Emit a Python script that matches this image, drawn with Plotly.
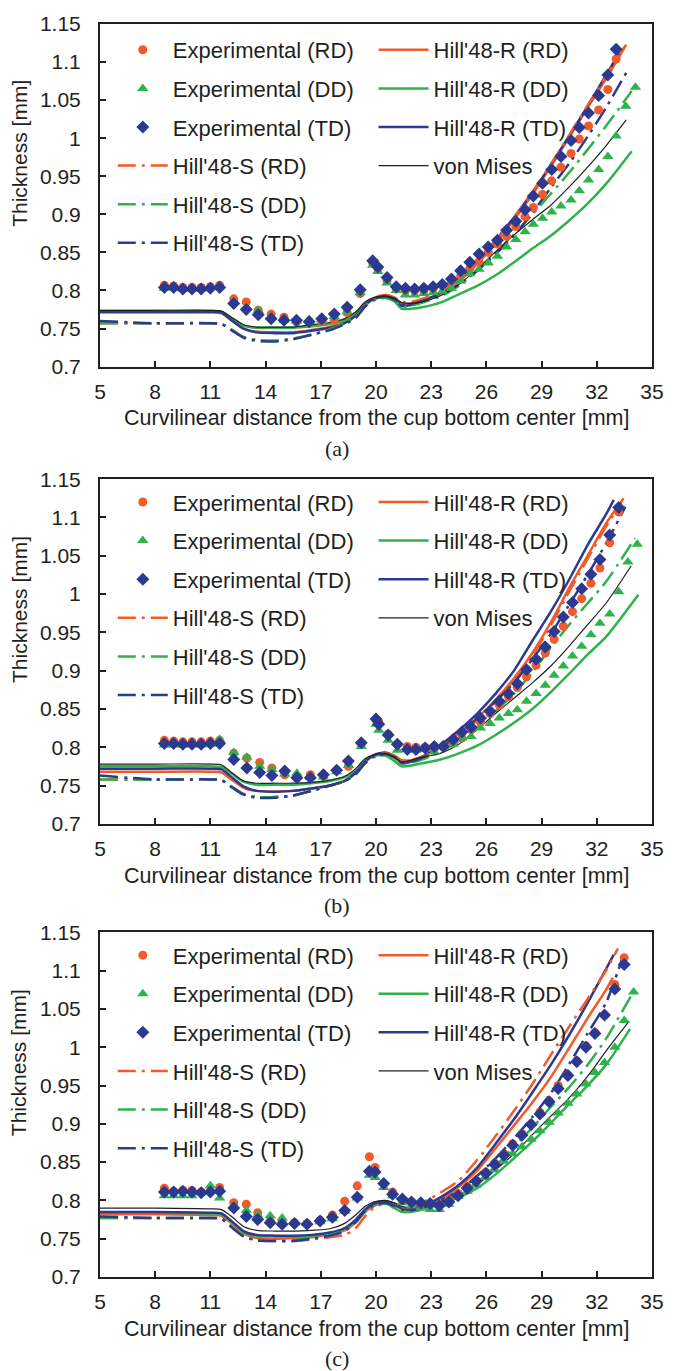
import plotly.graph_objects as go

# ---------------- data ----------------
# model curves: common x grid, each list has one extra final value (curve end), end x given separately
CX = [5, 8, 11, 11.6, 12.2, 12.8, 13.5, 14.5, 15.5, 16.5, 17.5, 18.3, 18.9, 19.4, 19.9,
      20.5, 21.0, 21.4, 21.9, 22.5, 23.5, 24.5, 25.5, 26.5, 27.5, 28.5, 29.5, 30.5, 31.5, 32.5]

# ---- panel (a)
A_X = [8.5, 9.0, 9.5, 10.0, 10.5, 11.0, 11.5,
       12.27, 12.95, 13.6, 14.3, 15.0, 15.68, 16.37, 17.05, 17.73, 18.43, 19.14, 19.82,
       20.1, 20.6, 21.1, 21.6, 22.1, 22.6, 23.1, 23.6, 24.1, 24.6, 25.1, 25.6, 26.1, 26.6, 27.1, 27.6, 28.1,
       28.55, 29.05, 29.55, 30.05, 30.6, 31.05, 31.55, 32.1, 32.6, 33.05,
       33.57, 34.1]
A_RD = [0.807, 0.806, 0.804, 0.804, 0.804, 0.805, 0.807,
        0.789, 0.785, 0.774, 0.769, 0.765, 0.759, 0.759, 0.760, 0.761, 0.771, 0.796, 0.836,
        0.829, 0.813, 0.802, 0.800, 0.800, 0.800, 0.803, 0.807, 0.810, 0.819, 0.829, 0.838, 0.850, 0.861, 0.871, 0.884, 0.897,
        0.909, 0.926, 0.944, 0.962, 0.980, 0.999, 1.016, 1.037, 1.064, 1.104,
        None, None]
A_DD = [0.803, 0.803, 0.802, 0.802, 0.802, 0.804, 0.805,
        0.785, 0.778, 0.774, 0.766, 0.761, 0.760, 0.762, 0.762, 0.766, 0.772, 0.797, 0.833,
        0.825, 0.810, 0.800, 0.794, 0.794, 0.796, 0.797, 0.799, 0.803, 0.812, 0.822, 0.828, 0.836, 0.845, 0.857, 0.867, 0.877,
        0.887, 0.895, 0.903, 0.911, 0.919, 0.931, 0.945, 0.959, 0.976, 1.003,
        1.042, 1.067]
A_TD = [0.804, 0.804, 0.802, 0.802, 0.802, 0.803, 0.804,
        0.783, 0.775, 0.768, 0.763, 0.761, 0.761, 0.759, 0.763, 0.769, 0.778, 0.801, 0.839,
        0.831, 0.817, 0.805, 0.803, 0.802, 0.803, 0.805, 0.808, 0.815, 0.826, 0.837, 0.848, 0.857, 0.866, 0.879, 0.891, 0.906,
        0.924, 0.941, 0.959, 0.976, 0.997, 1.014, 1.033, 1.056, 1.083, 1.117,
        None, None]
A_HR_RD = [0.771, 0.771, 0.771, 0.770, 0.760, 0.750, 0.746, 0.745, 0.745, 0.748, 0.752, 0.758, 0.768, 0.782, 0.790,
           0.794, 0.790, 0.783, 0.783, 0.787, 0.796, 0.812, 0.835, 0.862, 0.893, 0.926, 0.963, 1.001, 1.040, 1.078, 1.123]
A_HR_DD = [0.773, 0.773, 0.773, 0.772, 0.763, 0.754, 0.751, 0.751, 0.751, 0.753, 0.756, 0.761, 0.770, 0.783, 0.789,
           0.791, 0.786, 0.776, 0.776, 0.778, 0.784, 0.795, 0.806, 0.820, 0.837, 0.855, 0.872, 0.892, 0.914, 0.940, 0.983]
A_HR_TD = [0.772, 0.772, 0.772, 0.771, 0.760, 0.750, 0.745, 0.744, 0.744, 0.747, 0.751, 0.757, 0.767, 0.781, 0.789,
           0.792, 0.788, 0.780, 0.781, 0.786, 0.797, 0.815, 0.838, 0.866, 0.896, 0.929, 0.965, 1.003, 1.042, 1.083, 1.113]
A_HS_RD = [0.757, 0.757, 0.757, 0.756, 0.748, 0.739, 0.735, 0.734, 0.737, 0.742, 0.749, 0.757, 0.765, 0.780, 0.789,
           0.794, 0.791, 0.785, 0.785, 0.789, 0.799, 0.815, 0.838, 0.865, 0.896, 0.929, 0.966, 1.004, 1.043, 1.081, 1.120]
A_HS_DD = [0.757, 0.757, 0.757, 0.756, 0.748, 0.739, 0.735, 0.734, 0.737, 0.742, 0.749, 0.757, 0.765, 0.779, 0.787,
           0.790, 0.786, 0.779, 0.780, 0.784, 0.792, 0.806, 0.826, 0.849, 0.874, 0.900, 0.927, 0.955, 0.985, 1.016, 1.062]
A_HS_TD = [0.760, 0.757, 0.757, 0.756, 0.747, 0.738, 0.734, 0.733, 0.736, 0.742, 0.748, 0.756, 0.764, 0.779, 0.788,
           0.792, 0.788, 0.781, 0.782, 0.786, 0.794, 0.808, 0.826, 0.848, 0.872, 0.902, 0.935, 0.967, 1.002, 1.040, 1.086]
A_VM = [0.774, 0.774, 0.774, 0.773, 0.764, 0.755, 0.752, 0.752, 0.752, 0.755, 0.758, 0.763, 0.772, 0.785, 0.791,
        0.793, 0.790, 0.784, 0.783, 0.785, 0.793, 0.808, 0.828, 0.851, 0.873, 0.893, 0.912, 0.936, 0.962, 0.990, 1.024]
A_END_X = [33.6, 33.9, 33.25, 33.5, 33.9, 33.6, 33.6]

# ---- panel (b)
B_X = [8.5, 9.0, 9.5, 10.0, 10.5, 11.0, 11.5,
       12.27, 12.98, 13.68, 14.34, 15.04, 15.7, 16.43, 17.14, 17.86, 18.5, 19.2, 20.0,
       20.15, 20.66, 21.16, 21.7, 22.17, 22.67, 23.17, 23.65, 24.19, 24.67, 25.17, 25.68, 26.2, 26.7, 27.2, 27.68,
       28.18, 28.7, 29.2, 29.68, 30.18, 30.68, 31.18, 31.68, 32.17, 32.7, 33.19,
       33.69, 34.2]
B_RD = [0.809, 0.808, 0.807, 0.807, 0.807, 0.808, 0.809,
        0.792, 0.786, 0.780, 0.773, 0.764, 0.760, 0.764, 0.762, 0.770, 0.775, 0.804, 0.836,
        0.833, 0.817, 0.804, 0.801, 0.800, 0.800, 0.799, 0.801, 0.805, 0.812, 0.823, 0.833, 0.844, 0.855, 0.866, 0.878,
        0.892, 0.907, 0.923, 0.941, 0.958, 0.977, 0.994, 1.014, 1.034, 1.067, 1.107,
        None, None]
B_DD = [0.803, 0.803, 0.803, 0.803, 0.803, 0.804, 0.810,
        0.793, 0.787, 0.775, 0.771, 0.765, 0.766, 0.761, 0.761, 0.768, 0.776, 0.801, 0.830,
        0.822, 0.809, 0.796, 0.797, 0.796, 0.797, 0.794, 0.801, 0.804, 0.812, 0.814, 0.825, 0.831, 0.838, 0.844, 0.849,
        0.860, 0.870, 0.881, 0.894, 0.906, 0.919, 0.932, 0.947, 0.962, 0.974, 1.003,
        1.042, 1.065]
B_TD = [0.805, 0.805, 0.804, 0.804, 0.804, 0.805, 0.805,
        0.784, 0.773, 0.767, 0.763, 0.769, 0.760, 0.760, 0.764, 0.770, 0.782, 0.806, 0.837,
        0.830, 0.816, 0.804, 0.797, 0.797, 0.799, 0.801, 0.801, 0.810, 0.820, 0.826, 0.838, 0.847, 0.860, 0.870, 0.883,
        0.901, 0.915, 0.931, 0.951, 0.970, 0.989, 1.007, 1.026, 1.045, 1.077, 1.113,
        None, None]
B_HR_RD = [0.768, 0.768, 0.768, 0.767, 0.757, 0.747, 0.743, 0.742, 0.743, 0.746, 0.750, 0.756, 0.767, 0.781, 0.789,
           0.792, 0.789, 0.783, 0.783, 0.788, 0.800, 0.818, 0.838, 0.862, 0.890, 0.923, 0.963, 1.008, 1.050, 1.092, 1.125]
B_HR_DD = [0.775, 0.775, 0.775, 0.774, 0.765, 0.755, 0.751, 0.751, 0.751, 0.753, 0.756, 0.761, 0.769, 0.782, 0.789,
           0.789, 0.782, 0.775, 0.776, 0.779, 0.784, 0.792, 0.802, 0.816, 0.832, 0.850, 0.872, 0.896, 0.921, 0.944, 0.999]
B_HR_TD = [0.772, 0.772, 0.772, 0.771, 0.760, 0.749, 0.743, 0.742, 0.743, 0.746, 0.750, 0.756, 0.767, 0.781, 0.790,
           0.793, 0.788, 0.779, 0.781, 0.787, 0.803, 0.822, 0.844, 0.870, 0.900, 0.939, 0.977, 1.019, 1.064, 1.104, 1.123]
B_HS_RD = [0.758, 0.758, 0.758, 0.757, 0.748, 0.739, 0.735, 0.735, 0.737, 0.743, 0.750, 0.756, 0.765, 0.779, 0.788,
           0.792, 0.789, 0.783, 0.783, 0.787, 0.798, 0.815, 0.835, 0.859, 0.887, 0.920, 0.959, 1.003, 1.046, 1.088, 1.120]
B_HS_DD = [0.758, 0.758, 0.758, 0.757, 0.748, 0.739, 0.735, 0.735, 0.737, 0.743, 0.750, 0.756, 0.765, 0.779, 0.787,
           0.790, 0.786, 0.779, 0.780, 0.784, 0.794, 0.808, 0.826, 0.847, 0.870, 0.898, 0.930, 0.960, 0.988, 1.016, 1.073]
B_HS_TD = [0.763, 0.758, 0.758, 0.757, 0.747, 0.738, 0.734, 0.734, 0.737, 0.743, 0.750, 0.756, 0.765, 0.779, 0.788,
           0.791, 0.787, 0.780, 0.781, 0.786, 0.798, 0.818, 0.838, 0.860, 0.884, 0.915, 0.948, 0.986, 1.025, 1.066, 1.114]
B_VM = [0.778, 0.778, 0.778, 0.777, 0.766, 0.756, 0.753, 0.753, 0.753, 0.754, 0.757, 0.762, 0.772, 0.785, 0.790,
        0.792, 0.787, 0.781, 0.783, 0.787, 0.792, 0.804, 0.823, 0.844, 0.864, 0.884, 0.906, 0.932, 0.960, 0.988, 1.037]
B_END_X = [33.46, 34.26, 32.92, 33.35, 34.08, 33.55, 33.87]

# ---- panel (c)
C_X = [8.5, 9.0, 9.5, 10.0, 10.5, 11.0, 11.5,
       12.27, 12.95, 13.57, 14.25, 14.9, 15.57, 16.25, 16.96, 17.63, 18.3, 18.98, 19.64,
       19.95, 20.42, 20.9, 21.43, 21.93, 22.44, 22.94, 23.44, 23.96, 24.46, 24.96, 25.44, 25.97, 26.45, 26.95, 27.43,
       27.93, 28.43, 28.91, 29.41, 29.9, 30.43, 30.91, 31.41, 31.9, 32.42, 32.98, 33.49,
       34.0]
C_RD = [0.816, 0.812, 0.813, 0.813, 0.811, 0.812, 0.817,
        0.797, 0.795, 0.784, 0.773, 0.772, 0.771, 0.770, 0.774, 0.781, 0.799, 0.819, 0.857,
        0.843, 0.822, 0.811, 0.801, 0.798, 0.796, 0.796, 0.794, 0.801, 0.809, 0.818, 0.826, 0.837, 0.849, 0.861, 0.874,
        0.887, 0.900, 0.915, 0.930, 0.950, 0.964, 0.982, 1.002, 1.019, 1.042, 1.082, 1.117,
        None]
C_DD = [0.806, 0.806, 0.806, 0.806, 0.810, 0.819, 0.803,
        0.793, 0.787, 0.781, 0.780, 0.777, 0.771, 0.771, 0.772, 0.776, 0.786, 0.803, 0.833,
        0.830, 0.817, 0.806, 0.797, 0.793, 0.790, 0.788, 0.788, 0.795, 0.805, 0.812, 0.820, 0.830, 0.840, 0.851, 0.861,
        0.870, 0.880, 0.891, 0.902, 0.914, 0.927, 0.939, 0.952, 0.967, 0.980, 1.000, 1.035,
        1.072]
C_TD = [0.811, 0.811, 0.812, 0.811, 0.810, 0.811, 0.812,
        0.790, 0.779, 0.775, 0.771, 0.769, 0.770, 0.769, 0.773, 0.778, 0.787, 0.804, 0.838,
        0.837, 0.822, 0.808, 0.802, 0.798, 0.797, 0.796, 0.793, 0.798, 0.806, 0.816, 0.825, 0.835, 0.847, 0.859, 0.872,
        0.885, 0.899, 0.913, 0.929, 0.946, 0.963, 0.981, 1.000, 1.018, 1.042, 1.076, 1.108,
        None]
C_HR_RD = [0.782, 0.782, 0.781, 0.780, 0.769, 0.757, 0.751, 0.750, 0.751, 0.752, 0.756, 0.761, 0.771, 0.785, 0.793,
           0.797, 0.794, 0.790, 0.790, 0.792, 0.803, 0.818, 0.839, 0.868, 0.898, 0.928, 0.961, 0.999, 1.038, 1.075, 1.091]
C_HR_DD = [0.784, 0.784, 0.783, 0.782, 0.771, 0.759, 0.754, 0.753, 0.753, 0.754, 0.757, 0.763, 0.774, 0.787, 0.795,
           0.797, 0.790, 0.785, 0.785, 0.788, 0.795, 0.804, 0.816, 0.834, 0.855, 0.877, 0.901, 0.926, 0.950, 0.977, 1.024]
C_HR_TD = [0.785, 0.785, 0.784, 0.783, 0.772, 0.760, 0.755, 0.754, 0.754, 0.755, 0.758, 0.764, 0.775, 0.788, 0.796,
           0.799, 0.795, 0.789, 0.788, 0.792, 0.804, 0.820, 0.843, 0.874, 0.906, 0.941, 0.977, 1.016, 1.058, 1.102, 1.121]
C_HS_RD = [0.777, 0.777, 0.777, 0.776, 0.765, 0.754, 0.748, 0.747, 0.747, 0.749, 0.752, 0.755, 0.764, 0.779, 0.791,
           0.796, 0.794, 0.791, 0.792, 0.797, 0.810, 0.826, 0.853, 0.884, 0.917, 0.952, 0.990, 1.027, 1.063, 1.100, 1.129]
C_HS_DD = [0.777, 0.777, 0.777, 0.776, 0.765, 0.754, 0.749, 0.748, 0.748, 0.751, 0.755, 0.761, 0.772, 0.785, 0.793,
           0.796, 0.791, 0.786, 0.786, 0.789, 0.797, 0.810, 0.824, 0.845, 0.870, 0.895, 0.922, 0.948, 0.977, 1.011, 1.073]
C_HS_TD = [0.779, 0.777, 0.777, 0.776, 0.764, 0.753, 0.748, 0.747, 0.747, 0.750, 0.754, 0.760, 0.772, 0.786, 0.794,
           0.797, 0.793, 0.788, 0.787, 0.790, 0.800, 0.813, 0.832, 0.855, 0.881, 0.909, 0.940, 0.978, 1.018, 1.058, 1.117]
C_VM = [0.790, 0.790, 0.789, 0.788, 0.778, 0.766, 0.761, 0.760, 0.760, 0.761, 0.763, 0.770, 0.781, 0.792, 0.798,
        0.800, 0.797, 0.792, 0.791, 0.792, 0.798, 0.807, 0.821, 0.840, 0.861, 0.886, 0.910, 0.934, 0.962, 0.995, 1.034]
C_END_X = [32.87, 33.81, 32.92, 33.15, 34.0, 33.4, 33.76]

X_TICKS = [5, 8, 11, 14, 17, 20, 23, 26, 29, 32, 35]
Y_TICKS = [0.7, 0.75, 0.8, 0.85, 0.9, 0.95, 1.0, 1.05, 1.1, 1.15]
Y_LABELS = ['0.7', '0.75', '0.8', '0.85', '0.9', '0.95', '1', '1.05', '1.1', '1.15']
EXP_NAMES = ['Experimental (RD)', 'Experimental (DD)', 'Experimental (TD)']
LINE_NAMES = ["Hill'48-R (RD)", "Hill'48-R (DD)", "Hill'48-R (TD)",
              "Hill'48-S (RD)", "Hill'48-S (DD)", "Hill'48-S (TD)", 'von Mises']
CAPTIONS = ['(a)', '(b)', '(c)']

# ---------------- styling ----------------
ORANGE = '#F15A29'
GREEN = '#2DB34A'
BLUE = '#2B3990'
BLACK = '#231F20'
DASHDOT = '18px,6px,3px,6px'
FONT = 'Liberation Sans, Arial, sans-serif'
SERIF = 'Liberation Serif, Times New Roman, serif'

LINE_STYLE = [
    (ORANGE, 'solid', 2.5), (GREEN, 'solid', 2.5), (BLUE, 'solid', 2.5),
    (ORANGE, DASHDOT, 2.5), (GREEN, DASHDOT, 2.5), (BLUE, DASHDOT, 2.5),
    (BLACK, 'solid', 1.2),
]
LINE_LEG = [(2, 1), (2, 2), (2, 3), (1, 4), (1, 5), (1, 6), (2, 4)]  # (column, rank)
EXP_STYLE = [(ORANGE, 'circle', 9), (GREEN, 'triangle-up', 10), (BLUE, 'diamond', 10)]

panels = [
    (A_X, [A_RD, A_DD, A_TD], [A_HR_RD, A_HR_DD, A_HR_TD, A_HS_RD, A_HS_DD, A_HS_TD, A_VM], A_END_X),
    (B_X, [B_RD, B_DD, B_TD], [B_HR_RD, B_HR_DD, B_HR_TD, B_HS_RD, B_HS_DD, B_HS_TD, B_VM], B_END_X),
    (C_X, [C_RD, C_DD, C_TD], [C_HR_RD, C_HR_DD, C_HR_TD, C_HS_RD, C_HS_DD, C_HS_TD, C_VM], C_END_X),
]

# layout geometry (pixels -> paper)
W, H = 676, 1371
ML, MR, MT, MB = 100, 15, 19, 94
PW = W - ML - MR
PH = H - MT - MB
PANEL_PX = [(19, 363), (476, 822), (931, 1277)]
ROW1_PX = [45, 499, 954]


def py(v):
    return (H - MB - v) / PH


def px(v):
    return (v - ML) / PW


fig = go.Figure()

for i, (ex, exps, lines, endx) in enumerate(panels):
    s = '' if i == 0 else str(i + 1)
    lg1 = 'legend' if i == 0 else 'legend' + str(2 * i + 1)
    lg2 = 'legend' + str(2 * i + 2)
    for k, ys in enumerate(lines):
        col, dash, w = LINE_STYLE[k]
        c, rank = LINE_LEG[k]
        fig.add_trace(go.Scatter(
            x=CX + [endx[k]], y=ys, mode='lines', name=LINE_NAMES[k],
            line=dict(color=col, dash=dash, width=w, shape='spline', smoothing=0.7),
            xaxis='x' + s, yaxis='y' + s, legend=(lg1 if c == 1 else lg2),
            legendgroup=f'p{i}l{k}', legendrank=rank, hoverinfo='skip'))
    for k, ys in enumerate(exps):
        col, sym, sz = EXP_STYLE[k]
        fig.add_trace(go.Scatter(
            x=ex, y=ys, mode='markers', name=EXP_NAMES[k],
            marker=dict(color=col, symbol=sym, size=sz, line=dict(width=0)),
            xaxis='x' + s, yaxis='y' + s, legend=lg1,
            legendgroup=f'p{i}e{k}', legendrank=k + 1, hoverinfo='skip'))

layout = dict(
    width=W, height=H, margin=dict(l=ML, r=MR, t=MT, b=MB),
    plot_bgcolor='white', paper_bgcolor='white', showlegend=True,
    font=dict(family=FONT, color=BLACK),
    annotations=[],
)

axis_common = dict(showline=True, linewidth=2, linecolor=BLACK, mirror=True, showgrid=False,
                   zeroline=False, ticks='inside', ticklen=6, tickwidth=1.5, tickcolor=BLACK,
                   tickfont=dict(size=21, family=FONT, color=BLACK))

for i in range(3):
    s = '' if i == 0 else str(i + 1)
    top, bot = PANEL_PX[i]
    layout['xaxis' + s] = dict(axis_common, domain=[0, 1], range=[5, 35], tickvals=X_TICKS,
                               anchor='y' + s, ticklabelstandoff=5)
    layout['yaxis' + s] = dict(axis_common, domain=[py(bot), py(top)], range=[0.7, 1.15],
                               tickvals=Y_TICKS, ticktext=Y_LABELS, anchor='x' + s,
                               ticklabelstandoff=13)
    leg = dict(xanchor='left', yanchor='top', orientation='v', traceorder='grouped',
               tracegroupgap=7, itemwidth=50, bgcolor='rgba(0,0,0,0)', borderwidth=0,
               font=dict(size=22, family=FONT, color=BLACK))
    ytop = py(ROW1_PX[i] - 21)
    lg1 = 'legend' if i == 0 else 'legend' + str(2 * i + 1)
    lg2 = 'legend' + str(2 * i + 2)
    layout[lg1] = dict(leg, x=px(113), y=ytop)
    layout[lg2] = dict(leg, x=px(378), y=ytop)
    # axis titles and caption
    mid = (top + bot) / 2
    layout['annotations'] += [
        dict(text='Thickness [mm]', xref='paper', yref='paper', x=px(18), y=py(mid - 42),
             xanchor='center', yanchor='middle', textangle=-90, showarrow=False,
             font=dict(size=21, family=FONT, color=BLACK)),
        dict(text='Curvilinear distance from the cup bottom center [mm]', xref='paper', yref='paper',
             x=px(381), y=py(bot + 52), xanchor='center', yanchor='middle', showarrow=False,
             font=dict(size=21.5, family=FONT, color=BLACK)),
        dict(text=CAPTIONS[i], xref='paper', yref='paper', x=px(341), y=py(bot + 82),
             xanchor='center', yanchor='middle', showarrow=False,
             font=dict(size=22, family=SERIF, color=BLACK)),
    ]

fig.update_layout(**layout)
fig.write_html('out.html')
